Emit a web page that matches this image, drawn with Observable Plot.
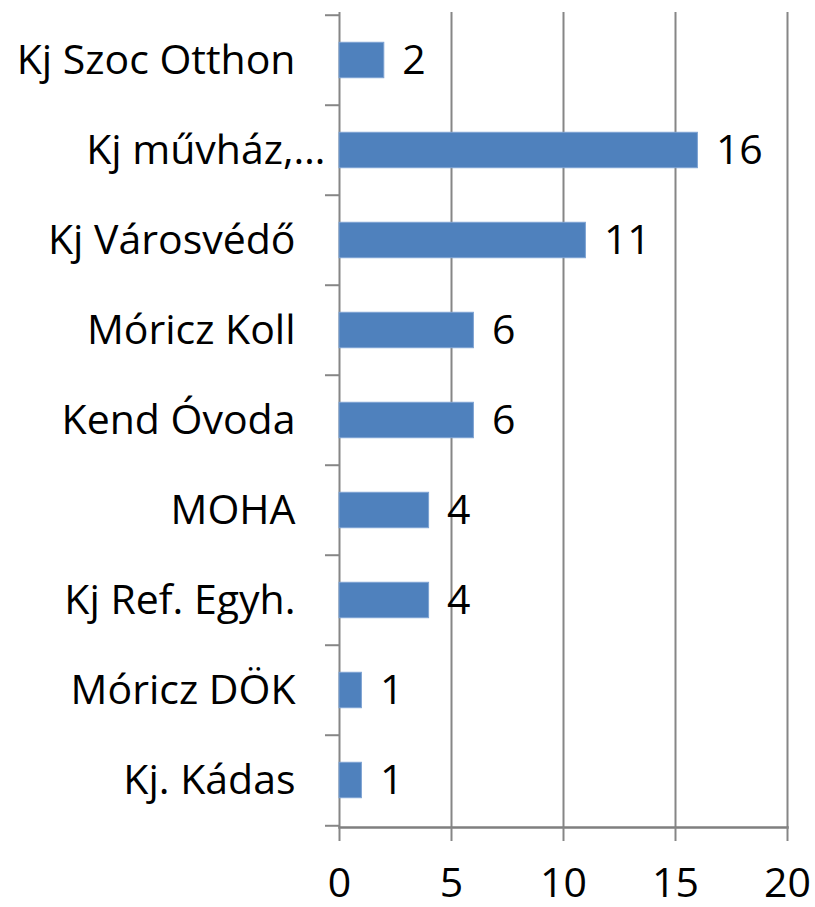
<!DOCTYPE html>
<html><head><meta charset="utf-8">
<script src="https://cdn.jsdelivr.net/npm/d3@7"></script>
<script src="https://cdn.jsdelivr.net/npm/@observablehq/plot@0.6"></script>
<style>body{margin:0;background:#fff}</style>
</head><body><div id="chart"></div>
<script>
const categories = ["Kj Szoc Otthon", "Kj művház,…", "Kj Városvédő", "Móricz Koll", "Kend Óvoda", "MOHA", "Kj Ref. Egyh.", "Móricz DÖK", "Kj. Kádas"];
const values = [2, 16, 11, 6, 6, 4, 4, 1, 1];
const xTicks = [0, 5, 10, 15, 20];
const xTickLabels = ["0", "5", "10", "15", "20"];

const data = categories.map((c, i) => ({category: c, value: values[i]}));
const W = 815, H = 907, mt = 12, mb = 80, ml = 339, mr = 28;
const step = (H - mt - mb) / categories.length;
const barH = 36;
const inset = (step - barH) / 2;
const gray = "#868686";
const lw = 2;
const font = "Open Sans";
const fs = 41;
const truncated = categories.filter(c => c.endsWith("…"));
const normal = categories.filter(c => !c.endsWith("…"));
const lastCat = categories[categories.length - 1];

const chart = Plot.plot({
  width: W, height: H,
  marginTop: mt, marginBottom: mb, marginLeft: ml, marginRight: mr,
  style: {fontFamily: font, background: "#fff", overflow: "visible"},
  x: {domain: [0, 20], label: null},
  y: {domain: categories, padding: 0, label: null},
  marks: [
    Plot.gridX(xTicks, {stroke: gray, strokeOpacity: 1, strokeWidth: lw}),
    Plot.frame({anchor: "bottom", stroke: "#7f7f7f", strokeOpacity: 1, strokeWidth: 2.5}),
    Plot.axisY({tickSize: 14, text: null, stroke: gray, strokeWidth: lw, dy: -step / 2, label: null}),
    Plot.axisY({ticks: [lastCat], tickSize: 14, text: null, stroke: gray, strokeWidth: lw, dy: step / 2, label: null}),
    Plot.axisY({ticks: normal, tickSize: 0, tickPadding: 44, fontSize: fs, fill: "#000", label: null}),
    Plot.axisY({ticks: truncated, tickSize: 0, tickPadding: 14, fontSize: fs, fill: "#000", label: null}),
    Plot.axisX({ticks: xTicks, tickSize: 14, text: null, stroke: gray, strokeWidth: lw, label: null}),
    Plot.axisX({ticks: xTicks, tickFormat: (d, i) => xTickLabels[i], tickSize: 0, tickPadding: 40, fontSize: fs, fill: "#000", label: null}),
    Plot.barX(data, {y: "category", x: "value", fill: "#4F81BD", stroke: "#7DA2D2", strokeWidth: 1, insetTop: inset, insetBottom: inset}),
    Plot.text(data, {y: "category", x: "value", text: d => String(d.value), textAnchor: "start", dx: 18, fontSize: fs, fill: "#000"})
  ]
});
document.getElementById("chart").appendChild(chart);
</script>
</body></html>
